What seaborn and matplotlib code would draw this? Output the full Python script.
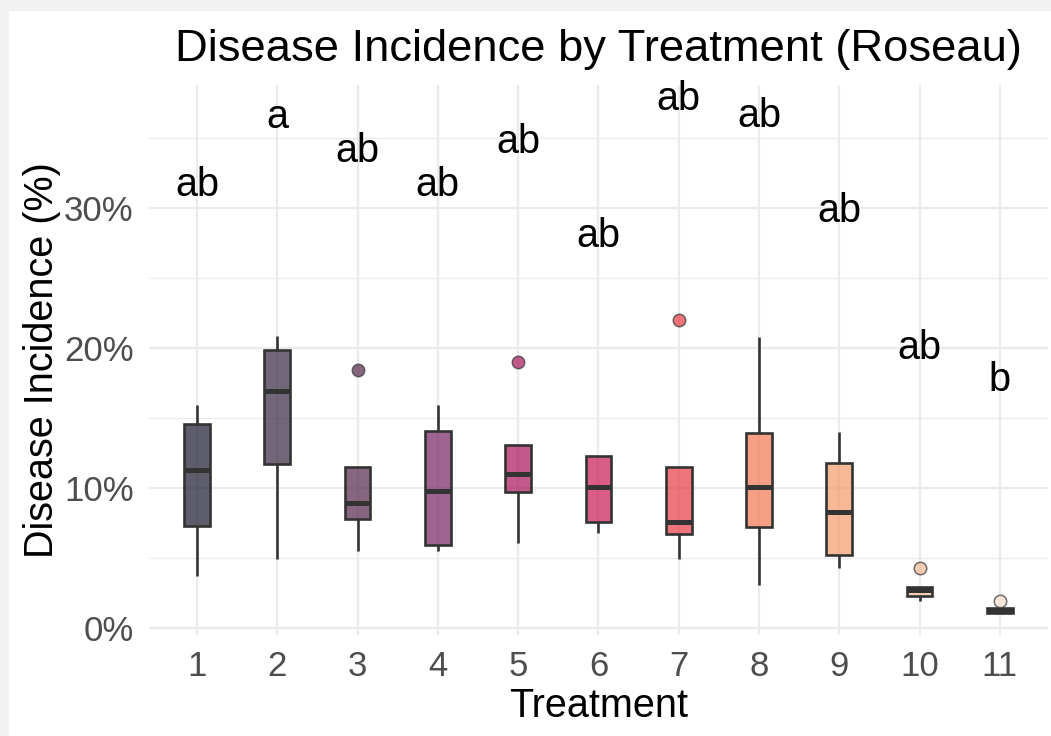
import numpy as np
import pandas as pd
import matplotlib
matplotlib.use("Agg")
import matplotlib.pyplot as plt
import seaborn as sns
from matplotlib.ticker import MultipleLocator, FuncFormatter
from matplotlib.patches import Rectangle

# ---- data (percent) ----
treatments = ["1", "2", "3", "4", "5", "6", "7", "8", "9", "10", "11"]
mins    = [3.7, 4.9, 5.5, 5.5, 6.1, 6.8, 4.9, 3.1, 4.3, 1.9, 1.05]
q1s     = [7.3, 11.7, 7.8, 5.9, 9.7, 7.6, 6.7, 7.2, 5.2, 2.3, 1.1]
medians = [11.3, 16.9, 8.9, 9.8, 11.0, 10.1, 7.6, 10.1, 8.3, 2.7, 1.25]
q3s     = [14.6, 19.9, 11.5, 14.1, 13.05, 12.3, 11.5, 13.95, 11.8, 2.95, 1.4]
maxs    = [15.9, 20.9, 18.4, 15.9, 19.0, 12.3, 22.0, 20.8, 14.0, 4.3, 1.9]
letters  = ["ab", "a", "ab", "ab", "ab", "ab", "ab", "ab", "ab", "ab", "b"]
letter_y = [30.86, 35.76, 33.3, 30.86, 33.95, 27.24, 37.0, 35.8, 29.0, 19.2, 16.9]
fill_colors = ["#1a192e", "#372640", "#54274a", "#772262", "#a8155c", "#c91854",
               "#e83b44", "#f17652", "#f49b68", "#f7b894", "#f9e0cd"]

rows = []
for t, a, b, c, d, e in zip(treatments, mins, q1s, medians, q3s, maxs):
    for v in (a, b, c, d, e):
        rows.append((t, v))
df = pd.DataFrame(rows, columns=["Treatment", "Incidence"])

sns.set_theme(style="white")
plt.rcParams['font.family'] = ['Liberation Sans', 'DejaVu Sans']

W, H = 1051, 736
fig = plt.figure(figsize=(W / 100, H / 100), dpi=100, facecolor="white")
left, right, top, bottom = 148.8, 1048.0, 85.0, 635.0
ax = fig.add_axes([left / W, 1 - bottom / H, (right - left) / W, (bottom - top) / H])
ax.set_axisbelow(True)

line_col = "#333333"
sns.boxplot(data=df, x="Treatment", y="Incidence", hue="Treatment",
            order=treatments, hue_order=treatments, palette=fill_colors,
            width=0.32, linecolor=line_col, linewidth=1.9, showfliers=False,
            saturation=1, legend=False, dodge=False, whis=1.5, ax=ax,
            medianprops=dict(linewidth=3.6, color=line_col),
            capprops=dict(linewidth=0), capwidths=0)

for p in ax.patches:
    fc = p.get_facecolor()
    p.set_facecolor((fc[0], fc[1], fc[2], 0.7))

# outliers (1.5 IQR rule)
for i, t in enumerate(treatments):
    vals = df.loc[df.Treatment == t, "Incidence"].to_numpy()
    q1, q3 = np.percentile(vals, [25, 75])
    iqr = q3 - q1
    out = vals[(vals > q3 + 1.5 * iqr) | (vals < q1 - 1.5 * iqr)]
    if len(out):
        ax.scatter([i] * len(out), out, s=80, facecolor=fill_colors[i], alpha=0.7,
                   edgecolor=line_col, linewidth=1.1, zorder=5)

for i, (lab, y) in enumerate(zip(letters, letter_y)):
    ax.text(i, y, lab, ha="center", va="baseline", fontsize=28.5, color="black")

ax.set_xlim(-0.6, 10.6)
ax.set_ylim(-0.5, 38.8)
ax.yaxis.set_major_locator(MultipleLocator(10))
ax.yaxis.set_minor_locator(MultipleLocator(5))
ax.yaxis.set_major_formatter(FuncFormatter(lambda v, p: f"{v:.0f}%"))
ax.grid(which="major", axis="both", color="#ebebeb", linewidth=1.6)
ax.grid(which="minor", axis="y", color="#ebebeb", linewidth=0.9)
ax.tick_params(which="both", length=0, labelsize=25, labelcolor="#4d4d4d", pad=11)
for s in ax.spines.values():
    s.set_visible(False)

ax.set_xlabel("Treatment", fontsize=28.5, color="black", labelpad=3)
ax.set_ylabel("Disease Incidence (%)", fontsize=28.5, color="black", labelpad=2)

fig.text(598.5 / W, 1 - 61 / H, "Disease Incidence by Treatment (Roseau)",
         ha="center", va="baseline", fontsize=32.7, color="black")

fig.patches.append(Rectangle((0, 0), 8 / W, 1, transform=fig.transFigure,
                             color="#f2f2f2", zorder=-1))
fig.patches.append(Rectangle((0, 1 - 10 / H), 1, 10 / H, transform=fig.transFigure,
                             color="#f2f2f2", zorder=-1))

fig.savefig("out.png", dpi=100)
